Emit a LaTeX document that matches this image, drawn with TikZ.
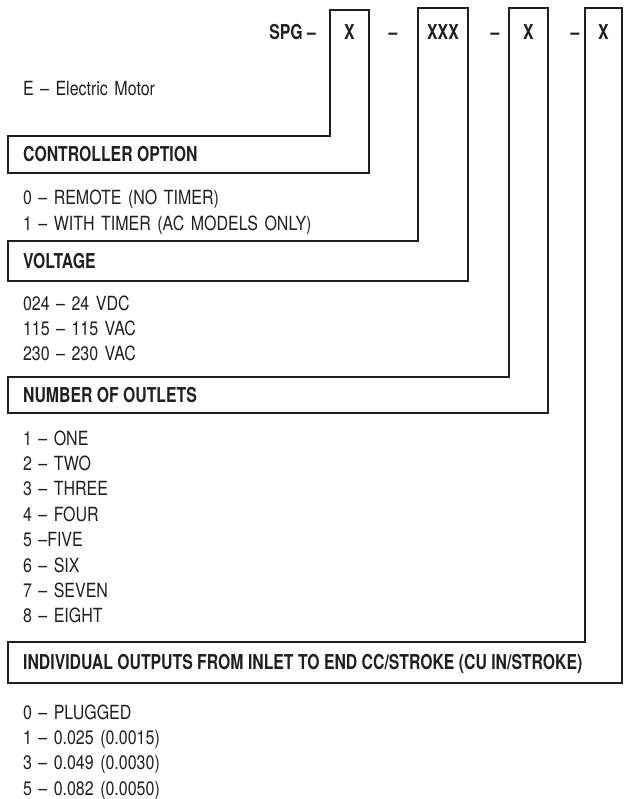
\documentclass[tikz,border=0pt]{standalone}
\usepackage{fontspec}
\usepackage{tikz}
\usepackage{xcolor}
\usetikzlibrary{positioning}
\setmainfont{TeX Gyre Heros}[FakeStretch=0.82, WordSpace=0.6]
\newfontfamily\condbold{TeX Gyre Heros}[FakeStretch=0.77]
\definecolor{ink}{HTML}{231F20}

\begin{document}
\begin{tikzpicture}[x=1pt, y=-1pt, node distance={25.4pt}, color=ink,
    item/.style = {font=\fontsize{19.5}{21}\selectfont, text width=400pt, align=left, inner sep=0pt, text height=14pt, text depth=0pt},
    head/.style = {font=\condbold\bfseries\fontsize{20.5}{22}\selectfont, inner sep=0pt, text height=14.7pt, text depth=0pt},
    frame/.style = {draw=ink, line width=1.8pt}]
        \useasboundingbox (0,0) rectangle (629,799);

        \node[head, anchor=east] (k_spg) at (316,32) {SPG –};
        \node[head] (k_1) at (349.5,32) {X};
        \node[head] (k_d1) at (393,32) {–};
        \node[head] (k_2) at (443,32) {XXX};
        \node[head] (k_d2) at (495,32) {–};
        \node[head] (k_3) at (528.5,32) {X};
        \node[head] (k_d3) at (575,32) {–};
        \node[head] (k_4) at (603.5,32) {X};

        \draw[frame] (8,173) -- (8,136) -- (330,136) -- (330,10) -- (369,10) -- (369,173) -- cycle;
        \draw[frame] (8,281) -- (8,241) -- (418,241) -- (418,8) -- (468,8) -- (468,281) -- cycle;
        \draw[frame] (8,413) -- (8,377) -- (509,377) -- (509,8) -- (548,8) -- (548,413) -- cycle;
        \draw[frame] (8,683) -- (8,642) -- (585,642) -- (585,8) -- (622,8) -- (622,683) -- cycle;

        \node[item] (e_1) at (223,89) {E – Electric Motor};

        \node[head, anchor=west] (h_ctrl) at (23,154.5) {CONTROLLER OPTION};
        \node[item] (c_0) at (223,198) {0 – REMOTE (NO TIMER)};
        \node[item] (c_1) [below of=c_0] {1 – WITH TIMER (AC MODELS ONLY)};

        \node[head, anchor=west] (h_volt) at (23,261) {VOLTAGE};
        \node[item] (v_1) at (223,303) {024 – 24 VDC};
        \node[item] (v_2) [below of=v_1] {115 – 115 VAC};
        \node[item] (v_3) [below of=v_2] {230 – 230 VAC};

        \node[head, anchor=west] (h_num) at (23,395) {NUMBER OF OUTLETS};
        \node[item] (n_1) at (223,438) {1 – ONE};
        \node[item] (n_2) [below of=n_1] {2 – TWO};
        \node[item] (n_3) [below of=n_2] {3 – THREE};
        \node[item] (n_4) [below of=n_3] {4 – FOUR};
        \node[item] (n_5) [below of=n_4] {5 –FIVE};
        \node[item] (n_6) [below of=n_5] {6 – SIX};
        \node[item] (n_7) [below of=n_6] {7 – SEVEN};
        \node[item] (n_8) [below of=n_7] {8 – EIGHT};

        \node[head, anchor=west] (h_out) at (23,662.5) {INDIVIDUAL OUTPUTS FROM INLET TO END CC/STROKE (CU IN/STROKE)};
        \node[item] (p_0) at (223,712) {0 – PLUGGED};
        \node[item] (p_1) [below of=p_0] {1 – 0.025 (0.0015)};
        \node[item] (p_3) [below of=p_1] {3 – 0.049 (0.0030)};
        \node[item] (p_5) [below of=p_3] {5 – 0.082 (0.0050)};
      \end{tikzpicture}
\end{document}
